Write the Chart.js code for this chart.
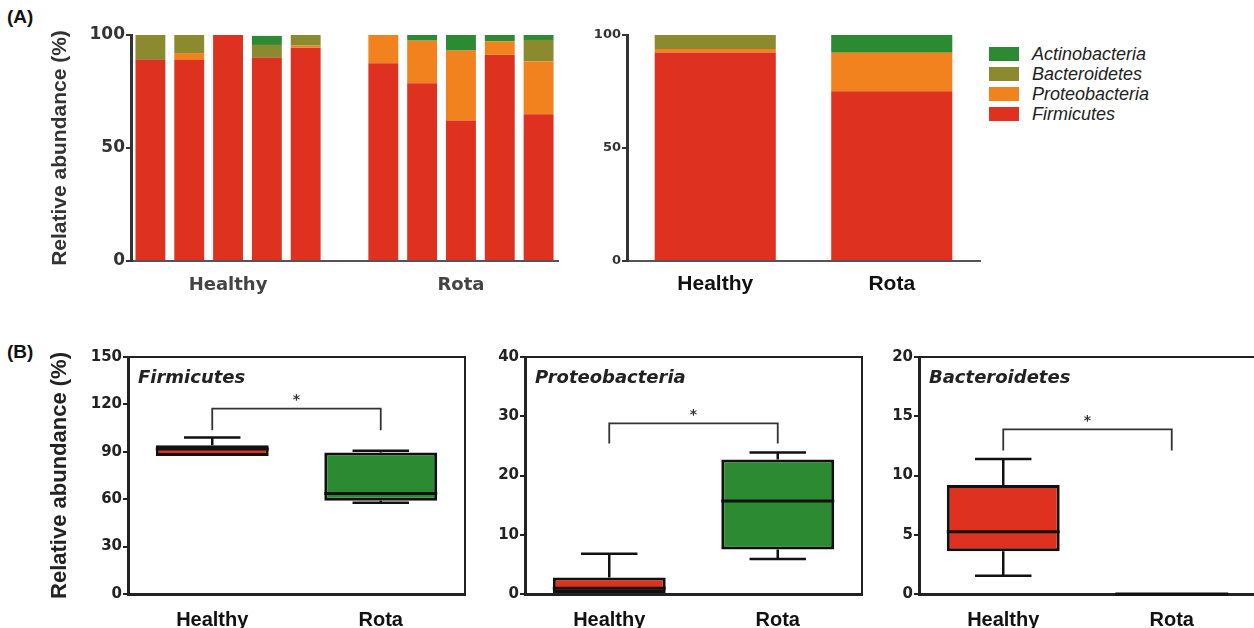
<!DOCTYPE html>
<html>
<head>
<meta charset="utf-8">
<script src="https://cdn.jsdelivr.net/npm/chart.js@4.4.1/dist/chart.umd.min.js"></script>
<style>
  html, body { margin: 0; padding: 0; background: #fff; }
  body { width: 1254px; height: 628px; position: relative; overflow: hidden; }
  canvas { position: absolute; }
  .panel { position: absolute; font: bold 19px "Liberation Sans", Arial, sans-serif; color: #111; }
  #legend { position: absolute; left: 989px; top: 44px; }
  .lg-row { display: flex; align-items: center; height: 20px; }
  .lg-box { width: 30px; height: 14px; margin-right: 13px; }
  .lg-txt { font: italic 18px "Liberation Sans", Arial, sans-serif; color: #222; }
</style>
</head>
<body>
<div class="panel" style="left:7px;top:6px;">(A)</div>
<div class="panel" style="left:7px;top:341px;">(B)</div>
<canvas id="samples"></canvas>
<canvas id="means"></canvas>
<div id="legend"></div>
<canvas id="boxFirm"></canvas>
<canvas id="boxProteo"></canvas>
<canvas id="boxBactero"></canvas>
<script>
// --- stacked bars, per sample (slot 5 is the gap between groups)
const sampleLabels = ["", "", "Healthy", "", "", "", "", "", "Rota", "", ""];
const firmicutesSamples = [89, 89, 100, 90, 94.4, null, 87.5, 78.7, 62.2, 91.2, 64.9];
const proteoSamples     = [0, 3, 0, 0, 0.9, null, 12.5, 18.8, 30.9, 6, 23.5];
const bacteroSamples    = [11, 8, 0, 5.6, 4.7, null, 0, 0, 0, 0, 9.4];
const actinoSamples     = [0, 0, 0, 4, 0, null, 0, 2.5, 6.9, 2.8, 2.2];

// --- stacked bars, group means
const groups = ["Healthy", "Rota"];
const firmicutesMean = [92.3, 75.1];
const proteoMean     = [1.5, 17];
const bacteroMean    = [6.2, 0];
const actinoMean     = [0, 7.9];

const seriesNames  = ["Firmicutes", "Proteobacteria", "Bacteroidetes", "Actinobacteria"];
const seriesColors = ["#de311f", "#f1821d", "#8c8a2f", "#2b8a32"];
const boxColors = ["#de311f", "#2b8a32"];

// --- box plots (min, q1, median, q3, max per group)
const firmMin = [87.4, 57.7], firmQ1 = [87.4, 59], firmMed = [91.8, 63.6], firmQ3 = [94.2, 89.5], firmMax = [99, 90.6];
const proteoMin = [0, 5.9], proteoQ1 = [0, 7.5], proteoMed = [0.95, 15.7], proteoQ3 = [2.8, 22.7], proteoMax = [6.8, 23.9];
const bacteroMin = [1.55, 0], bacteroQ1 = [3.6, 0], bacteroMed = [5.25, 0], bacteroQ3 = [9.2, 0], bacteroMax = [11.4, 0];

// significance brackets: bar height, leg end
const sigBar = [117.3, 28.8, 13.9];
const sigLeg = [103.6, 25.4, 12.1];

const tickFont = size => ({ family: "DejaVu Sans", size, weight: "bold" });

function place(id, left, top, width, height) {
  const c = document.getElementById(id);
  c.width = width; c.height = height;
  c.style.left = left + "px"; c.style.top = top + "px";
  return c.getContext("2d");
}

function stackSets(data) {
  return seriesNames.map((name, i) => ({
    label: name,
    data: data[i],
    backgroundColor: seriesColors[i],
    borderWidth: 0
  }));
}

function stackedChart(id, left, top, yW, labels, data, barPct, xFont, xColor, xPad, title) {
  const ctx = place(id, left, top, yW + (id === "samples" ? 429 : 355), 281);
  return new Chart(ctx, {
    type: "bar",
    data: { labels, datasets: stackSets(data) },
    options: {
      responsive: false,
      animation: false,
      layout: { padding: { top: 15, right: 2, left: 0, bottom: 0 } },
      datasets: { bar: { barPercentage: barPct, categoryPercentage: 1 } },
      plugins: { legend: { display: false }, tooltip: { enabled: false } },
      scales: {
        x: {
          stacked: true,
          grid: { display: false, drawTicks: false },
          border: { display: true, color: "#555", width: 2 },
          ticks: { font: xFont, color: xColor, padding: xPad, autoSkip: false, maxRotation: 0 },
          afterFit: s => { s.height = 40; }
        },
        y: {
          stacked: true,
          min: 0, max: 100,
          grid: { drawOnChartArea: false, tickLength: 5, color: "#333", lineWidth: 2 },
          border: { display: true, color: "#333", width: 3 },
          ticks: { stepSize: 50, font: tickFont(title ? 17 : 13), color: "#333", padding: 1 },
          title: title ? { display: true, text: "Relative abundance (%)", font: { family: "Liberation Sans", size: 21, weight: "bold", lineHeight: 1 }, color: "#333", padding: 0 } : { display: false },
          afterFit: s => { s.width = yW; }
        }
      }
    }
  });
}

stackedChart("samples", 50, 20, 81, sampleLabels,
  [firmicutesSamples, proteoSamples, bacteroSamples, actinoSamples],
  0.77, tickFont(18), "#444", 14, true);

stackedChart("means", 580, 20, 47, groups,
  [firmicutesMean, proteoMean, bacteroMean, actinoMean],
  0.686, { family: "Liberation Sans", size: 21, weight: "bold" }, "#111", 11, false);

// legend, top series first
const legend = document.getElementById("legend");
for (let i = seriesNames.length - 1; i >= 0; i--) {
  const row = document.createElement("div");
  row.className = "lg-row";
  row.innerHTML = `<div class="lg-box" style="background:${seriesColors[i]}"></div><span class="lg-txt">${seriesNames[i]}</span>`;
  legend.appendChild(row);
}

function boxChart(id, left, yW, name, stats, yMax, step, sigIdx, withTitle) {
  const [mins, q1, med, q3, maxs] = stats;
  const ctx = place(id, left, 342, yW + 341, 292);

  const boxExtras = {
    id: "boxExtras" + id,
    beforeDatasetsDraw(chart) {
      const c = chart.ctx, ys = chart.scales.y;
      const bars = chart.getDatasetMeta(0).data;
      c.save();
      c.strokeStyle = "#111";
      c.lineWidth = 2.5;
      bars.forEach((bar, i) => {
        const cx = bar.x, cap = bar.width / 4;
        [[q3[i], maxs[i]], [q1[i], mins[i]]].forEach(([from, to]) => {
          if (from === to) return;
          const y1 = ys.getPixelForValue(from), y2 = ys.getPixelForValue(to);
          c.beginPath();
          c.moveTo(cx, y1); c.lineTo(cx, y2);
          c.moveTo(cx - cap, y2); c.lineTo(cx + cap, y2);
          c.stroke();
        });
      });
      c.restore();
    },
    afterDatasetsDraw(chart) {
      const c = chart.ctx, ys = chart.scales.y, xs = chart.scales.x;
      const a = chart.chartArea;
      const bars = chart.getDatasetMeta(0).data;
      c.save();
      // medians
      c.strokeStyle = "#111";
      c.lineWidth = 3;
      bars.forEach((bar, i) => {
        const ym = ys.getPixelForValue(med[i]);
        c.beginPath();
        c.moveTo(bar.x - bar.width / 2, ym); c.lineTo(bar.x + bar.width / 2, ym);
        c.stroke();
      });
      // frame top + right
      c.strokeStyle = "#222";
      c.lineWidth = 2;
      c.beginPath();
      c.moveTo(a.left, a.top); c.lineTo(a.right, a.top); c.lineTo(a.right, a.bottom);
      c.stroke();
      // significance bracket
      const x0 = xs.getPixelForValue(0), x1 = xs.getPixelForValue(1);
      const yb = ys.getPixelForValue(sigBar[sigIdx]), yl = ys.getPixelForValue(sigLeg[sigIdx]);
      c.strokeStyle = "#333";
      c.lineWidth = 1.8;
      c.beginPath();
      c.moveTo(x0, yl); c.lineTo(x0, yb); c.lineTo(x1, yb); c.lineTo(x1, yl);
      c.stroke();
      c.fillStyle = "#333";
      c.font = "bold 14px 'DejaVu Sans'";
      c.textAlign = "center";
      c.textBaseline = "bottom";
      c.fillText("*", (x0 + x1) / 2, yb - 1);
      // panel name
      c.fillStyle = "#222";
      c.font = "italic bold 18px 'DejaVu Sans'";
      c.textAlign = "left";
      c.textBaseline = "top";
      c.fillText(name, a.left + 10, a.top + 12);
      c.restore();
    }
  };

  return new Chart(ctx, {
    type: "bar",
    data: {
      labels: groups,
      datasets: [{
        data: q1.map((v, i) => [v, q3[i]]),
        backgroundColor: boxColors,
        borderColor: "#111",
        borderWidth: 3,
        borderSkipped: false
      }]
    },
    options: {
      responsive: false,
      animation: false,
      layout: { padding: { top: 15, right: 4, left: 0, bottom: 0 } },
      datasets: { bar: { barPercentage: 0.67, categoryPercentage: 1 } },
      plugins: { legend: { display: false }, tooltip: { enabled: false } },
      scales: {
        x: {
          grid: { display: false, drawTicks: false },
          border: { display: true, color: "#222", width: 3 },
          ticks: { font: { family: "Liberation Sans", size: 20, weight: "bold" }, color: "#111", padding: 14 },
          afterFit: s => { s.height = 40; }
        },
        y: {
          min: 0, max: yMax,
          grid: { drawOnChartArea: false, tickLength: 5, color: "#222", lineWidth: 2 },
          border: { display: true, color: "#222", width: 3 },
          ticks: { stepSize: step, font: tickFont(15), color: "#222", padding: 1 },
          title: withTitle ? { display: true, text: "Relative abundance (%)", font: { family: "Liberation Sans", size: 22, weight: "bold", lineHeight: 1 }, color: "#222", padding: 0 } : { display: false },
          afterFit: s => { s.width = yW; }
        }
      }
    },
    plugins: [boxExtras]
  });
}

boxChart("boxFirm", 49, 79, "Firmicutes", [firmMin, firmQ1, firmMed, firmQ3, firmMax], 150, 30, 0, true);
boxChart("boxProteo", 470, 55, "Proteobacteria", [proteoMin, proteoQ1, proteoMed, proteoQ3, proteoMax], 40, 10, 1, false);
boxChart("boxBactero", 870, 49, "Bacteroidetes", [bacteroMin, bacteroQ1, bacteroMed, bacteroQ3, bacteroMax], 20, 5, 2, false);
</script>
</body>
</html>
